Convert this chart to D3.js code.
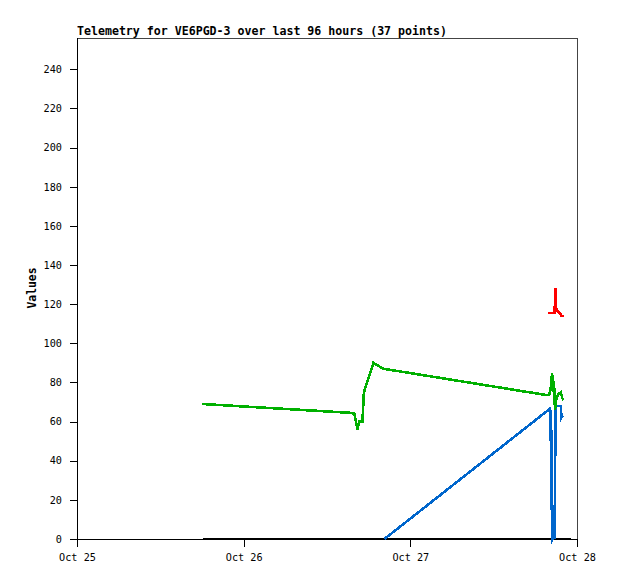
<!DOCTYPE html>
<html>
<head>
<meta charset="utf-8">
<script src="https://cdn.jsdelivr.net/npm/d3@7"></script>
<style>
  body { margin: 0; background: #fff; }
  svg { display: block; }
</style>
</head>
<body>
<svg id="chart" width="618" height="579"></svg>
<script>
const title = "Telemetry for VE6PGD-3 over last 96 hours (37 points)";
const yLabel = "Values";
const xTickDates = ["2023-10-25T00:00", "2023-10-26T00:00", "2023-10-27T00:00", "2023-10-28T00:00"];
const xTickLabels = ["Oct 25", "Oct 26", "Oct 27", "Oct 28"];
const yTicks = [0, 20, 40, 60, 80, 100, 120, 140, 160, 180, 200, 220, 240];

// black channel
const blackTimes = ["2023-10-25T18:05", "2023-10-27T23:08"];
const blackValues = [0, 0];

// blue channel
const blueTimes = ["2023-10-26T20:16", "2023-10-27T20:05", "2023-10-27T20:10", "2023-10-27T20:16",
  "2023-10-27T20:22", "2023-10-27T20:29", "2023-10-27T20:38", "2023-10-27T20:46", "2023-10-27T20:55",
  "2023-10-27T21:03", "2023-10-27T21:40", "2023-10-27T21:46", "2023-10-27T21:55"];
const blueValues = [0, 66.5, 50, 66, 16, 0, 1, 0, 66, 68, 68, 62, 63];

// green channel
const greenTimes = ["2023-10-25T17:58", "2023-10-26T15:14", "2023-10-26T15:57", "2023-10-26T16:23",
  "2023-10-26T16:40", "2023-10-26T17:06", "2023-10-26T17:19", "2023-10-26T18:41",
  "2023-10-26T20:07", "2023-10-27T19:41", "2023-10-27T19:59", "2023-10-27T20:13",
  "2023-10-27T20:25", "2023-10-27T20:33", "2023-10-27T20:41", "2023-10-27T20:50",
  "2023-10-27T21:01", "2023-10-27T21:19", "2023-10-27T21:40", "2023-10-27T21:53",
  "2023-10-27T22:04"];
const greenValues = [69, 64.5, 64, 56, 60, 60, 75, 90, 87, 73.5, 73.5, 77, 85, 75, 80.5, 66,
  71.5, 74, 75, 72, 71];

// red channel
const redTimes = ["2023-10-27T19:51", "2023-10-27T20:46", "2023-10-27T20:55", "2023-10-27T21:01",
  "2023-10-27T21:20", "2023-10-27T21:34", "2023-10-27T21:42", "2023-10-27T22:04"];
const redValues = [115.5, 115.5, 128, 117, 116, 115.5, 114, 114];

(function () {
const parse = d3.timeParse("%Y-%m-%dT%H:%M");
const svg = d3.select("#chart");
const mLeft = 77, mRight = 577, mTop = 38, mBottom = 539;

const x = d3.scaleTime()
  .domain([parse(xTickDates[0]), parse(xTickDates[xTickDates.length - 1])])
  .range([mLeft, mRight]);
const y = d3.scaleLinear().domain([0, 256]).range([mBottom, mTop]);

const tickFont = "'DejaVu Sans Mono', monospace";

// frame top/right
svg.append("path")
  .attr("d", `M${mLeft},${mTop + 0.5}H${mRight + 0.5}V${mBottom}`)
  .attr("fill", "none").attr("stroke", "#444").attr("stroke-width", 1)
  .attr("shape-rendering", "crispEdges");

// Y axis
const yAxis = svg.append("g")
  .attr("transform", `translate(${mLeft},0)`)
  .call(d3.axisLeft(y).tickValues(yTicks).tickSize(7).tickPadding(8).tickSizeOuter(0));
yAxis.select(".domain").attr("d", `M0.5,${mTop}V${mBottom + 7}`).attr("stroke", "#000");
yAxis.selectAll("text").attr("font-family", tickFont).attr("font-size", "10.2px").attr("fill", "#000");
yAxis.selectAll("line").attr("stroke", "#000");
yAxis.attr("shape-rendering", "crispEdges");

// X axis
const xAxis = svg.append("g")
  .attr("transform", `translate(0,${mBottom})`)
  .call(d3.axisBottom(x).tickValues(xTickDates.map(parse))
    .tickFormat((d, i) => xTickLabels[i]).tickSize(8).tickPadding(7).tickSizeOuter(0));
xAxis.select(".domain").attr("d", `M${mLeft - 7},0.5H${mRight}`).attr("stroke", "#000");
xAxis.selectAll("text").attr("font-family", tickFont).attr("font-size", "10.2px").attr("fill", "#000");
xAxis.selectAll("line").attr("stroke", "#000");
xAxis.attr("shape-rendering", "crispEdges");

// Title
svg.append("text")
  .attr("x", mLeft).attr("y", 35)
  .attr("font-family", tickFont).attr("font-weight", "bold").attr("font-size", "11.6px")
  .text(title);

// Y label
svg.append("text")
  .attr("transform", `translate(36,288) rotate(-90)`)
  .attr("text-anchor", "middle")
  .attr("font-family", tickFont).attr("font-weight", "bold").attr("font-size", "11.4px")
  .text(yLabel);

const line = d3.line().x(d => x(d[0])).y(d => y(d[1]));
function drawSeries(times, values, color) {
  const pts = times.map((t, i) => [parse(t), values[i]]);
  svg.append("path")
    .datum(pts)
    .attr("d", line)
    .attr("fill", "none")
    .attr("stroke", color)
    .attr("stroke-width", 2.6)
    .attr("stroke-linejoin", "miter")
    .attr("shape-rendering", "crispEdges");
}
drawSeries(blackTimes, blackValues, "#000000");
drawSeries(blueTimes, blueValues, "#0066cc");
drawSeries(greenTimes, greenValues, "#00b000");
drawSeries(redTimes, redValues, "#ff0000");
})();
</script>
</body>
</html>
